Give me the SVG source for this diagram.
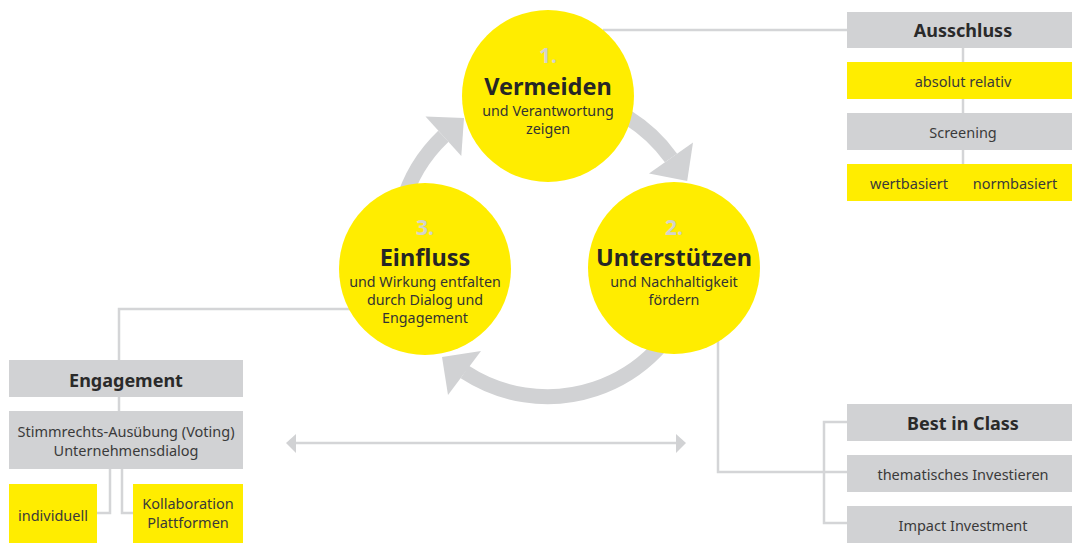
<svg xmlns="http://www.w3.org/2000/svg" width="1072" height="543" viewBox="0 0 1072 543">
<style>
text{font-family:"Noto Sans","Open Sans",sans-serif;text-anchor:middle}
.gbox{fill:#d1d2d4}
.ybox{fill:#ffed00}
.circ{fill:#ffed00}
.conn{fill:none;stroke:#d4d5d7;stroke-width:2.5}
.arc{fill:none;stroke:#d1d2d4;stroke-width:15}
.ah{fill:#d1d2d4}
.num{font-size:21px;font-weight:700;fill:#d3d3cc}
.ttl{font-size:23.5px;font-weight:700;fill:#262626}
.sub{font-size:14.3px;fill:#333333}
.bh{font-size:18px;font-weight:700;fill:#2a2a2a}
.bt{font-size:14.5px;fill:#3a3a3a}
</style>
<g id="connectors">
<polyline class="conn" points="603,30 847,30"/>
<line class="conn" x1="963" y1="48" x2="963" y2="164"/>
<polyline class="conn" points="350,309 119,309 119,411"/>
<polyline class="conn" points="110,469 110,513 97,513"/>
<polyline class="conn" points="122,469 122,513 133,513"/>
<polyline class="conn" points="718,340 718,472 847,472"/>
<polyline class="conn" points="847,422 824,422 824,523 847,523"/>
<line class="conn" x1="295" y1="443" x2="678" y2="443"/>
<polygon class="ah" points="286,443 296,434 296,453"/>
<polygon class="ah" points="686,443 676,434 676,453"/>
<path class="arc" d="M573.7,96.9 A151,151 0 0 1 671,158"/>
<polygon class="ah" points="693,142.4 649,173.6 687.2,181"/>
<path class="arc" d="M689.4,297.2 A151,151 0 0 1 464.8,372"/>
<polygon class="ah" points="481,351 448,395 442,357"/>
<path class="arc" d="M401.6,284.7 A151,151 0 0 1 443.4,136.3"/>
<polygon class="ah" points="461.3,156 425.5,116.5 464,118"/>
</g>
<g id="node-vermeiden">
<circle class="circ" cx="548" cy="96" r="86"/>
<text class="num" x="548" y="63">1.</text>
<text class="ttl" x="548" y="95">Vermeiden</text>
<text class="sub" x="548" y="116">und Verantwortung</text>
<text class="sub" x="548" y="134">zeigen</text>
</g>
<g id="node-unterstuetzen">
<circle class="circ" cx="674" cy="268" r="86"/>
<text class="num" x="674" y="235">2.</text>
<text class="ttl" x="674" y="266">Unterstützen</text>
<text class="sub" x="674" y="287">und Nachhaltigkeit</text>
<text class="sub" x="674" y="305">fördern</text>
</g>
<g id="node-einfluss">
<circle class="circ" cx="425" cy="269" r="86"/>
<text class="num" x="425" y="235">3.</text>
<text class="ttl" x="425" y="266">Einfluss</text>
<text class="sub" x="425" y="287">und Wirkung entfalten</text>
<text class="sub" x="425" y="305">durch Dialog und</text>
<text class="sub" x="425" y="323">Engagement</text>
</g>
<g id="node-ausschluss">
<rect class="gbox" x="847" y="12" width="225" height="36"/>
<text class="bh" x="963" y="37">Ausschluss</text>
</g>
<g id="node-absolut">
<rect class="ybox" x="847" y="62" width="225" height="37"/>
<text class="bt" x="963" y="87">absolut relativ</text>
</g>
<g id="node-screening">
<rect class="gbox" x="847" y="113" width="225" height="37"/>
<text class="bt" x="963" y="138">Screening</text>
</g>
<g id="node-basiert">
<rect class="ybox" x="847" y="164" width="225" height="37"/>
<text class="bt" x="909" y="189">wertbasiert</text>
<text class="bt" x="1015" y="189">normbasiert</text>
</g>
<g id="node-engagement">
<rect class="gbox" x="9" y="360" width="234" height="37"/>
<text class="bh" x="126" y="387">Engagement</text>
</g>
<g id="node-stimmrechts">
<rect class="gbox" x="9" y="411" width="234" height="58"/>
<text class="bt" x="126" y="437">Stimmrechts-Ausübung (Voting)</text>
<text class="bt" x="126" y="456">Unternehmensdialog</text>
</g>
<g id="node-individuell">
<rect class="ybox" x="9" y="484" width="88" height="59"/>
<text class="bt" x="53" y="521">individuell</text>
</g>
<g id="node-kollaboration">
<rect class="ybox" x="133" y="484" width="110" height="59"/>
<text class="bt" x="188" y="509">Kollaboration</text>
<text class="bt" x="188" y="528">Plattformen</text>
</g>
<g id="node-bestinclass">
<rect class="gbox" x="847" y="404" width="225" height="37"/>
<text class="bh" x="963" y="430">Best in Class</text>
</g>
<g id="node-thematisch">
<rect class="gbox" x="847" y="455" width="225" height="37"/>
<text class="bt" x="963" y="480">thematisches Investieren</text>
</g>
<g id="node-impact">
<rect class="gbox" x="847" y="506" width="225" height="37"/>
<text class="bt" x="963" y="531">Impact Investment</text>
</g>
</svg>
